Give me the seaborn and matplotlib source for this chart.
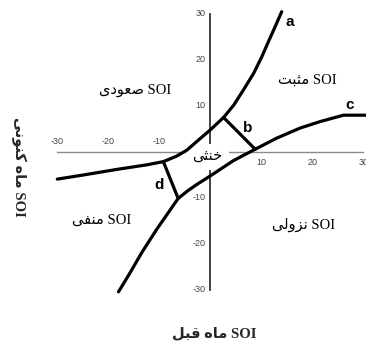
import numpy as np
import pandas as pd
import seaborn as sns
import matplotlib.pyplot as plt

# curve ending at "a" (upper boundary)
curve_a_x = [-30.0, -24.9, -18.4, -12.5, -9.2, -6.6, -4.6, -2.0, 0.0, 2.6,
             4.6, 6.5, 8.5, 10.1, 11.4, 12.7, 14.0]
curve_a_y = [-5.9, -5.0, -3.8, -2.8, -2.1, -0.9, 0.4, 2.9, 4.8, 7.5,
             10.2, 13.5, 17.1, 20.7, 24.0, 27.2, 30.5]
# curve ending at "c" (lower boundary)
curve_c_x = [-18.0, -15.7, -13.4, -10.5, -6.3, -4.5, -2.7, 0.0, 4.5, 8.8, 13.0,
             17.6, 21.5, 26.1, 30.5]
curve_c_y = [-30.4, -26.2, -21.8, -16.8, -10.1, -8.5, -7.1, -5.2, -1.9, 0.6, 3.0,
             5.2, 6.6, 8.0, 8.0]
# connecting segments
seg_b_x = [2.6, 8.8]
seg_b_y = [7.5, 0.6]
seg_d_x = [-9.2, -6.3]
seg_d_y = [-2.1, -10.1]

ticks = [-30, -20, -10, 10, 20, 30]

# region labels: (persian word, x, y)
regions = [("صعودی", -14.8, 13.5), ("مثبت", 19.0, 15.7),
           ("منفی", -21.4, -14.8), ("نزولی", 18.2, -15.9)]
letters = [("a", 15.6, 28.3), ("b", 7.4, 5.2), ("c", 27.4, 10.2), ("d", -10.0, -7.2)]

# persian shaping by hand (matplotlib has no complex text layout)
FORMS = {
    'ا': ('\uFE8D', '\uFE8E', None, None),
    'ب': ('\uFE8F', '\uFE90', '\uFE91', '\uFE92'),
    'ت': ('\uFE95', '\uFE96', '\uFE97', '\uFE98'),
    'ث': ('\uFE99', '\uFE9A', '\uFE9B', '\uFE9C'),
    'خ': ('\uFEA5', '\uFEA6', '\uFEA7', '\uFEA8'),
    'د': ('\uFEA9', '\uFEAA', None, None),
    'ز': ('\uFEAF', '\uFEB0', None, None),
    'ص': ('\uFEB9', '\uFEBA', '\uFEBB', '\uFEBC'),
    'ع': ('\uFEC9', '\uFECA', '\uFECB', '\uFECC'),
    'ف': ('\uFED1', '\uFED2', '\uFED3', '\uFED4'),
    'ق': ('\uFED5', '\uFED6', '\uFED7', '\uFED8'),
    'ل': ('\uFEDD', '\uFEDE', '\uFEDF', '\uFEE0'),
    'م': ('\uFEE1', '\uFEE2', '\uFEE3', '\uFEE4'),
    'ن': ('\uFEE5', '\uFEE6', '\uFEE7', '\uFEE8'),
    'ه': ('\uFEE9', '\uFEEA', '\uFEEB', '\uFEEC'),
    'و': ('\uFEED', '\uFEEE', None, None),
    'ی': ('\uFBFC', '\uFBFD', '\uFBFE', '\uFBFF'),
    'ک': ('\uFB8E', '\uFB8F', '\uFB90', '\uFB91'),
}


def fa(s):
    out = []
    for i, ch in enumerate(s):
        if ch not in FORMS:
            out.append(ch)
            continue
        f = FORMS[ch]
        prev = s[i - 1] if i > 0 else ''
        nxt = s[i + 1] if i + 1 < len(s) else ''
        jp = prev in FORMS and FORMS[prev][2] is not None
        jn = nxt in FORMS and f[2] is not None
        if jp and jn:
            out.append(f[3])
        elif jp:
            out.append(f[1])
        elif jn:
            out.append(f[2])
        else:
            out.append(f[0])
    return ''.join(reversed(out))


sns.set_style("white")
plt.rcParams['font.family'] = ['Liberation Serif', 'DejaVu Sans']
FAM = ['Liberation Serif', 'DejaVu Sans']

fig = plt.figure(figsize=(3.66, 3.45), dpi=100)
ax = fig.add_axes([0.1426, 0.1328, 0.857, 0.8533])
ax.set_xlim(-31, 30.5)
ax.set_ylim(-32, 32)

for xs, ys in [(curve_a_x, curve_a_y), (curve_c_x, curve_c_y),
               (seg_b_x, seg_b_y), (seg_d_x, seg_d_y)]:
    df = pd.DataFrame({'x': xs, 'y': ys})
    sns.lineplot(data=df, x='x', y='y', sort=False, estimator=None,
                 color='black', lw=2.3, ax=ax, zorder=5)

# axes through the origin
for s in ['top', 'right']:
    ax.spines[s].set_visible(False)
ax.spines['left'].set_position(('data', 0))
ax.spines['bottom'].set_position(('data', 0))
ax.spines['left'].set_bounds(-30, 30)
ax.spines['bottom'].set_bounds(-30, 30)
ax.spines['left'].set_color('#333333')
ax.spines['left'].set_linewidth(1.3)
ax.spines['bottom'].set_color('#8a8a8a')
ax.spines['bottom'].set_linewidth(1.0)
ax.set_xticks(ticks)
ax.set_yticks(ticks)
ax.tick_params(axis='both', direction='inout', length=3, width=1,
               labelbottom=False, labelleft=False)
ax.tick_params(axis='x', colors='#777777')
ax.tick_params(axis='y', colors='#333333')
ax.set_xlabel('')
ax.set_ylabel('')

tick_font = dict(family='Liberation Sans', fontsize=6.5, color='#444444')
for t in ticks:
    if t < 0:
        ax.text(t, 2.3, str(t), ha='center', va='center', **tick_font)
    else:
        ax.text(t, -2.3, str(t), ha='center', va='center', **tick_font)
    ax.text(-1.0, t, str(t), ha='right', va='center', **tick_font)

for word, x, y in regions:
    ax.text(x, y, fa(word) + ' SOI', ha='center', va='center',
            family=FAM, fontsize=10.5, color='black')

ax.text(-0.5, -1.0, fa("خنثی"), ha='center', va='center', family=FAM,
        fontsize=10.5, color='black', zorder=4,
        bbox=dict(boxstyle='square,pad=0.45', fc='white', ec='none'))

for lab, x, y in letters:
    ax.text(x, y, lab, ha='center', va='center', family='Liberation Sans',
            fontsize=11, fontweight='bold', color='black', zorder=6)

fig.text(0.585, 0.035, fa("ماه قبل") + ' SOI', ha='center', va='center',
         family=FAM, fontsize=10.5, fontweight='bold')
fig.text(0.05, 0.515, fa("ماه کنونی") + ' SOI', ha='center', va='center',
         rotation=270, family=FAM, fontsize=10.5, fontweight='bold')

fig.savefig('out.png', dpi=100)
